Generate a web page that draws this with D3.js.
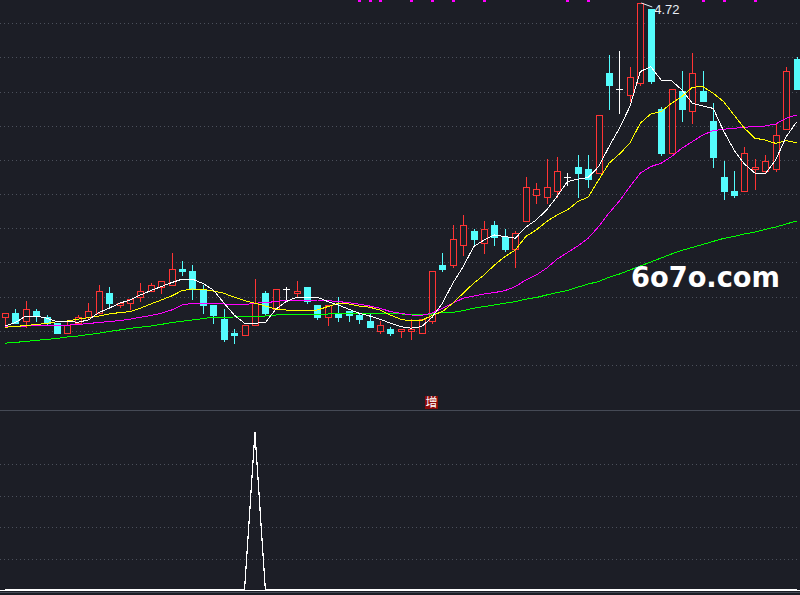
<!DOCTYPE html>
<html>
<head>
<meta charset="utf-8">
<script src="https://cdn.jsdelivr.net/npm/d3@7"></script>
<style>
  html, body { margin: 0; padding: 0; background: #1c1e26; overflow: hidden; }
  svg { display: block; }
</style>
</head>
<body>
<div id="chart"></div>
<script>
// daily bars, left to right
const opens = [
  3.15, 3.17, 3.13, 3.18, 3.15, 3.12, 3.07, 3.12, 3.15, 3.17,
  3.27, 3.21, 3.22, 3.25, 3.28, 3.30, 3.31, 3.39, 3.38, 3.29,
  3.21, 3.14, 3.07, 3.06, 3.11, 3.27, 3.19, 3.29, 3.27, 3.30,
  3.21, 3.15, 3.17, 3.18, 3.16, 3.13, 3.08, 3.09, 3.08, 3.08,
  3.07, 3.13, 3.41, 3.41, 3.51, 3.58, 3.52, 3.61, 3.55, 3.49,
  3.63, 3.76, 3.75, 3.78, 3.85, 3.90, 3.89, 3.87, 4.37, 4.29,
  4.26, 4.32, 4.69, 4.19, 3.97, 4.28, 4.18, 4.28, 4.13, 3.85,
  3.78, 3.78, 3.89, 3.88, 3.89, 4.09, 4.44
];
const highs = [
  3.17, 3.19, 3.23, 3.19, 3.16, 3.12, 3.13, 3.16, 3.22, 3.31,
  3.30, 3.22, 3.24, 3.32, 3.32, 3.33, 3.47, 3.43, 3.41, 3.31,
  3.21, 3.19, 3.09, 3.11, 3.34, 3.28, 3.29, 3.30, 3.33, 3.30,
  3.21, 3.21, 3.25, 3.18, 3.17, 3.17, 3.13, 3.10, 3.09, 3.14,
  3.14, 3.38, 3.47, 3.61, 3.66, 3.59, 3.63, 3.63, 3.59, 3.58,
  3.85, 3.82, 3.94, 3.95, 3.87, 3.96, 3.96, 4.16, 4.46, 4.48,
  4.40, 4.72, 4.69, 4.20, 4.29, 4.38, 4.47, 4.38, 4.22, 3.93,
  3.88, 4.00, 3.94, 3.96, 4.12, 4.40, 4.45
];
const lows = [
  3.11, 3.12, 3.10, 3.13, 3.11, 3.07, 3.07, 3.12, 3.14, 3.17,
  3.20, 3.20, 3.19, 3.23, 3.28, 3.27, 3.31, 3.36, 3.24, 3.17,
  3.12, 3.03, 3.02, 3.06, 3.11, 3.16, 3.19, 3.24, 3.25, 3.22,
  3.14, 3.11, 3.13, 3.13, 3.12, 3.10, 3.07, 3.06, 3.05, 3.04,
  3.07, 3.12, 3.38, 3.40, 3.46, 3.51, 3.47, 3.51, 3.48, 3.40,
  3.63, 3.72, 3.72, 3.75, 3.81, 3.75, 3.80, 3.87, 4.19, 4.17,
  4.23, 4.31, 4.32, 3.96, 3.97, 4.13, 4.12, 4.23, 3.90, 3.74,
  3.75, 3.78, 3.79, 3.87, 3.88, 4.09, 4.29
];
const closes = [
  3.17, 3.12, 3.19, 3.16, 3.12, 3.07, 3.11, 3.15, 3.18, 3.28,
  3.22, 3.22, 3.24, 3.28, 3.31, 3.33, 3.39, 3.38, 3.29, 3.21,
  3.16, 3.04, 3.06, 3.11, 3.22, 3.17, 3.29, 3.29, 3.28, 3.23,
  3.15, 3.21, 3.15, 3.16, 3.14, 3.10, 3.11, 3.07, 3.09, 3.09,
  3.14, 3.38, 3.39, 3.54, 3.61, 3.54, 3.59, 3.55, 3.49, 3.57,
  3.80, 3.79, 3.80, 3.88, 3.85, 3.87, 3.84, 4.16, 4.31, 4.29,
  4.35, 4.72, 4.33, 3.97, 4.29, 4.19, 4.37, 4.23, 3.95, 3.78,
  3.76, 3.97, 3.90, 3.93, 4.06, 4.38, 4.29
];

// moving averages
const ma5 = [
  3.105, 3.122, 3.155, 3.155, 3.144, 3.127, 3.127, 3.124, 3.135, 3.172,
  3.194, 3.219, 3.235, 3.260, 3.282, 3.302, 3.322, 3.339, 3.339, 3.318,
  3.285, 3.222, 3.160, 3.119, 3.119, 3.122, 3.189, 3.227, 3.249, 3.249,
  3.249, 3.227, 3.210, 3.189, 3.169, 3.155, 3.139, 3.119, 3.102, 3.094,
  3.102, 3.148, 3.219, 3.319, 3.402, 3.502, 3.535, 3.560, 3.552, 3.544,
  3.599, 3.635, 3.685, 3.752, 3.827, 3.839, 3.848, 3.902, 4.002, 4.094,
  4.202, 4.377, 4.402, 4.335, 4.332, 4.285, 4.219, 4.205, 4.193, 4.080,
  3.985, 3.915, 3.870, 3.865, 3.935, 4.050, 4.125
];
const ma10 = [
  3.099, 3.102, 3.108, 3.112, 3.118, 3.127, 3.130, 3.139, 3.147, 3.155,
  3.165, 3.172, 3.177, 3.194, 3.215, 3.235, 3.255, 3.282, 3.290, 3.288,
  3.280, 3.269, 3.249, 3.232, 3.219, 3.205, 3.190, 3.185, 3.182, 3.182,
  3.185, 3.202, 3.219, 3.215, 3.205, 3.199, 3.185, 3.160, 3.139, 3.130,
  3.133, 3.158, 3.177, 3.219, 3.269, 3.319, 3.360, 3.410, 3.452, 3.485,
  3.552, 3.585, 3.627, 3.660, 3.685, 3.727, 3.750, 3.835, 3.919, 3.965,
  4.019, 4.119, 4.165, 4.177, 4.219, 4.252, 4.299, 4.302, 4.269, 4.227,
  4.160, 4.094, 4.044, 4.035, 4.018, 4.032, 4.022
];
const ma20 = [
  3.105, 3.105, 3.105, 3.106, 3.107, 3.108, 3.109, 3.113, 3.117, 3.123,
  3.127, 3.132, 3.139, 3.149, 3.157, 3.169, 3.185, 3.210, 3.219, 3.219,
  3.218, 3.215, 3.210, 3.212, 3.219, 3.222, 3.227, 3.235, 3.235, 3.235,
  3.235, 3.232, 3.227, 3.222, 3.214, 3.205, 3.194, 3.177, 3.169, 3.160,
  3.158, 3.169, 3.194, 3.219, 3.244, 3.255, 3.265, 3.272, 3.282, 3.302,
  3.335, 3.360, 3.394, 3.439, 3.472, 3.505, 3.544, 3.602, 3.670, 3.730,
  3.802, 3.869, 3.902, 3.919, 3.952, 3.994, 4.027, 4.060, 4.082, 4.089,
  4.094, 4.097, 4.105, 4.105, 4.115, 4.144, 4.160
];
const ma60 = [
  3.019, 3.023, 3.028, 3.033, 3.038, 3.043, 3.050, 3.055, 3.062, 3.069,
  3.078, 3.085, 3.093, 3.099, 3.105, 3.113, 3.122, 3.129, 3.135, 3.142,
  3.149, 3.149, 3.150, 3.152, 3.154, 3.155, 3.160, 3.165, 3.165, 3.165,
  3.165, 3.165, 3.167, 3.169, 3.169, 3.169, 3.169, 3.169, 3.165, 3.164,
  3.162, 3.165, 3.172, 3.173, 3.182, 3.194, 3.202, 3.210, 3.219, 3.227,
  3.239, 3.247, 3.260, 3.272, 3.282, 3.299, 3.315, 3.327, 3.349, 3.365,
  3.385, 3.405, 3.425, 3.445, 3.465, 3.483, 3.498, 3.513, 3.528, 3.543,
  3.553, 3.565, 3.575, 3.588, 3.600, 3.615, 3.630
];

// lower panel indicator
const signal = [
  0, 0, 0, 0, 0, 0, 0, 0, 0, 0,
  0, 0, 0, 0, 0, 0, 0, 0, 0, 0,
  0, 0, 0, 0, 100, 0, 0, 0, 0, 0,
  0, 0, 0, 0, 0, 0, 0, 0, 0, 0,
  0, 0, 0, 0, 0, 0, 0, 0, 0, 0,
  0, 0, 0, 0, 0, 0, 0, 0, 0, 0,
  0, 0, 0, 0, 0, 0, 0, 0, 0, 0,
  0, 0, 0, 0, 0, 0, 0
];
const topDots = [34, 35, 36, 39, 41, 43, 46, 54, 56, 67, 69, 72];
const markIndex = 41;
const markText = "增";
const peakIndex = 61;
const watermark = "6o7o.com";

const W = 800, H = 595;
const bg = "#1c1e26", upColor = "#ff3434", downColor = "#54fcfc";
const n = closes.length;
const idx = d3.range(n);

const x = d3.scaleLinear().domain([0, n - 1]).range([5, 796.5]);
const y = d3.scaleLinear().domain([2.685, 4.735]).range([410, 0]);
const yInd = d3.scaleLinear().domain([0, 100]).range([590, 432.5]);

const svg = d3.select("#chart").append("svg")
  .attr("width", W).attr("height", H)
  .style("background", bg)
  .attr("shape-rendering", "crispEdges");

// dotted grid
const gridY = d3.range(11).map(k => 23.3 + 34.17 * k);
svg.append("g").selectAll("line").data(gridY).enter().append("line")
  .attr("x1", 0).attr("x2", W)
  .attr("y1", d => Math.round(d) + 0.5).attr("y2", d => Math.round(d) + 0.5)
  .attr("stroke", "#4b505b").attr("stroke-dasharray", "1,3");

svg.append("g").selectAll("line").data([20, 40, 60, 80]).enter().append("line")
  .attr("x1", 0).attr("x2", W)
  .attr("y1", d => Math.round(yInd(d)) + 0.5).attr("y2", d => Math.round(yInd(d)) + 0.5)
  .attr("stroke", "#4b505b").attr("stroke-dasharray", "1,3");

// panel separators
svg.append("line").attr("x1", 0).attr("x2", W).attr("y1", 410.5).attr("y2", 410.5)
  .attr("stroke", "#454a55").attr("stroke-width", 1.5);
svg.append("line").attr("x1", 0).attr("x2", W).attr("y1", 592.5).attr("y2", 592.5)
  .attr("stroke", "#454a55").attr("stroke-width", 1.5);

// candles (solid pixel rects so the colours stay clean)
const cg = svg.append("g");
const vbar = (cx, y0, y1, color) => {
  if (y1 > y0) cg.append("rect").attr("x", cx).attr("y", y0).attr("width", 1).attr("height", y1 - y0).attr("fill", color);
};
idx.forEach(i => {
  const cx = Math.round(x(i));
  const o = Math.round(y(opens[i])), c = Math.round(y(closes[i]));
  const hi = Math.round(y(highs[i])), lo = Math.round(y(lows[i]));
  if (closes[i] > opens[i]) {
    vbar(cx, hi, c, upColor);
    vbar(cx, o + 1, lo + 1, upColor);
    const h = Math.max(2, o - c + 1);
    cg.append("rect").attr("x", cx - 3).attr("y", c).attr("width", 7).attr("height", h).attr("fill", upColor);
    if (h > 2) cg.append("rect").attr("x", cx - 2).attr("y", c + 1).attr("width", 5).attr("height", h - 2).attr("fill", bg);
  } else if (closes[i] < opens[i]) {
    vbar(cx, hi, lo + 1, downColor);
    cg.append("rect").attr("x", cx - 3).attr("width", 7)
      .attr("y", o).attr("height", Math.max(1, c - o + 1))
      .attr("fill", downColor);
  } else {
    vbar(cx, hi, lo + 1, "#ffffff");
    cg.append("rect").attr("x", cx - 3).attr("y", o).attr("width", 7).attr("height", 1).attr("fill", "#ffffff");
  }
});

// moving averages, drawn over the candles
const maLine = arr => d3.line().x((d, i) => x(i)).y(d => y(d))(arr);
[[ma60, "#00ff00"], [ma20, "#ff00ff"], [ma10, "#ffff00"], [ma5, "#ffffff"]].forEach(([arr, col]) => {
  svg.append("path").attr("d", maLine(arr))
    .attr("fill", "none").attr("stroke", col).attr("stroke-width", 1);
});

// signal marks along the top edge
svg.append("g").selectAll("rect").data(topDots).enter().append("rect")
  .attr("x", d => Math.round(x(d)) - 1).attr("y", 0)
  .attr("width", 3).attr("height", 2).attr("fill", "#ff00ff");

// high label
const px = x(peakIndex), py = y(highs[peakIndex]);
svg.append("line").attr("x1", px + 1).attr("y1", py).attr("x2", px + 12).attr("y2", py + 4)
  .attr("stroke", "#e8eef5").attr("shape-rendering", "auto");
svg.append("text").attr("x", px + 14).attr("y", py + 10.5)
  .attr("fill", "#e8eef5").attr("font-family", "Liberation Sans, Arial, sans-serif")
  .attr("font-size", 13).text(highs[peakIndex].toFixed(2));

// watermark
svg.append("text").attr("x", 631).attr("y", 287)
  .attr("fill", "#ffffff").attr("font-family", "DejaVu Sans, sans-serif")
  .attr("font-weight", "bold").attr("font-size", 28)
  .attr("textLength", 149).attr("lengthAdjust", "spacingAndGlyphs")
  .text(watermark);

// lower indicator
svg.append("line").attr("x1", 0).attr("x2", W)
  .attr("y1", Math.round(yInd(0)) + 0.5).attr("y2", Math.round(yInd(0)) + 0.5)
  .attr("stroke", "#ffffff");
svg.append("path")
  .attr("d", d3.line().x((d, i) => x(i)).y(d => yInd(d))(signal))
  .attr("fill", "none").attr("stroke", "#ffffff").attr("stroke-width", 1.2);

// marker box
const mx = Math.round(x(markIndex));
svg.append("rect").attr("x", mx - 7).attr("y", 396).attr("width", 13).attr("height", 13)
  .attr("fill", "#8b0a0a");
svg.append("text").attr("x", mx - 0.5).attr("y", 407)
  .attr("text-anchor", "middle").attr("fill", "#ffffff")
  .attr("font-family", "Noto Sans CJK SC, sans-serif").attr("font-size", 12)
  .text(markText);
</script>
</body>
</html>
